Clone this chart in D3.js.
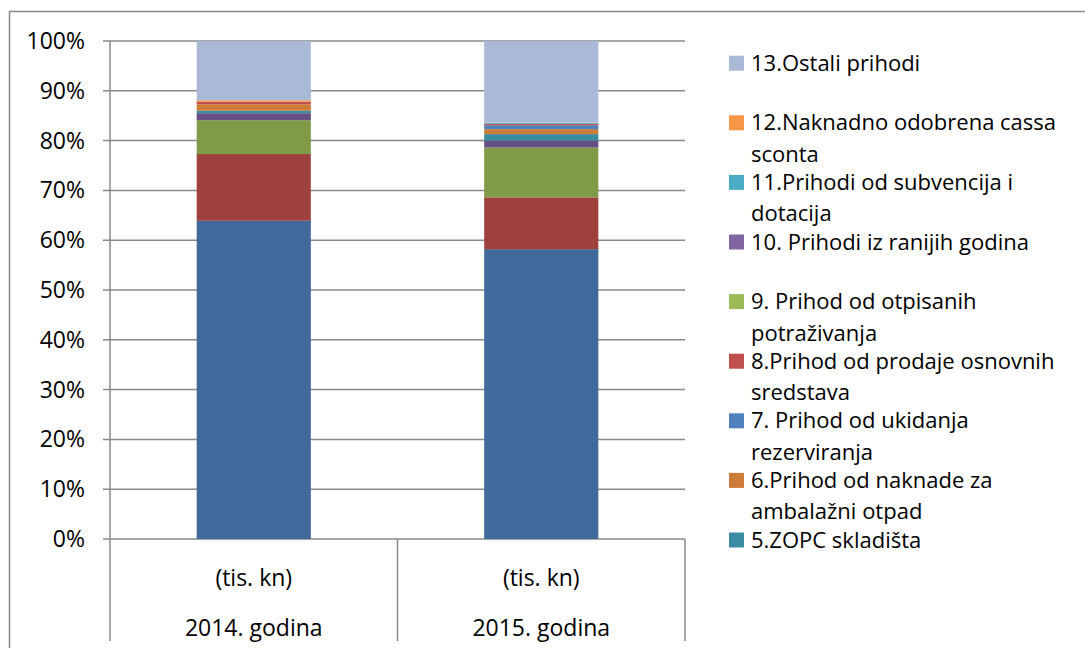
<!DOCTYPE html>
<html>
<head>
<meta charset="utf-8">
<script src="https://cdn.jsdelivr.net/npm/d3@7"></script>
<style>
  body { margin: 0; background: #fff; }
  text { font-family: "Open Sans", sans-serif; fill: #000; }
</style>
</head>
<body>
<div id="chart"></div>
<script>
// Data (shares of total)
const years = ["2014. godina", "2015. godina"];
const unitLabel = "(tis. kn)";
const seriesKeys = ["s1", "s2", "s3", "s4", "s5", "s6", "s7", "s8", "s9", "s10", "s11", "s12", "s13"];
const values2014 = [63.9, 13.4, 6.8, 1.4, 0.5, 1.3, 0.0, 0.5, 0.0, 0.0, 0.0, 0.3, 11.9];
const values2015 = [58.2, 10.4, 10.0, 1.4, 1.3, 1.0, 0.8, 0.3, 0.0, 0.0, 0.2, 0.0, 16.4];
const seriesColors = ["#41699b", "#9e413e", "#7f9b48", "#664f82", "#3a8ca3", "#cd7b38",
                      "#4f81bd", "#c0504d", "#9bbb59", "#8064a2", "#4bacc6", "#f79646", "#a9b9d6"];
const yTicks = [0, 0.1, 0.2, 0.3, 0.4, 0.5, 0.6, 0.7, 0.8, 0.9, 1.0];

// Legend only lists series 13 down to 5 (wrapped as in the original)
const legendKeys = ["s13", "s12", "s11", "s10", "s9", "s8", "s7", "s6", "s5"];
const legendLines = [
    ["13.Ostali prihodi"],
    ["12.Naknadno odobrena cassa", "sconta"],
    ["11.Prihodi od subvencija i", "dotacija"],
    ["10. Prihodi iz ranijih godina"],
    ["9. Prihod od otpisanih", "potraživanja"],
    ["8.Prihod od prodaje osnovnih", "sredstava"],
    ["7. Prihod od ukidanja", "rezerviranja"],
    ["6.Prihod od naknade za", "ambalažni otpad"],
    ["5.ZOPC skladišta"]
];

const W = 1085, H = 648;
const fontSize = 23;
const legendFontSize = 22;
const gridColor = "#898989";

const svg = d3.select("#chart")
    .append("svg")
    .attr("width", W)
    .attr("height", H);

svg.append("rect")
    .attr("width", W).attr("height", H)
    .attr("fill", "#fff");

// Outer chart border (runs off the right and bottom edge)
svg.append("rect")
    .attr("x", 9.5).attr("y", 11.5)
    .attr("width", W + 20).attr("height", H + 20)
    .attr("fill", "none")
    .attr("stroke", gridColor)
    .attr("stroke-width", 1.5);

const plot = {left: 110, right: 685, top: 41, bottom: 539};

const y = d3.scaleLinear()
    .domain([0, 1])
    .range([plot.bottom, plot.top]);

const x = d3.scaleBand()
    .domain(years)
    .range([plot.left, plot.right])
    .paddingInner(0.603)
    .paddingOuter(0.3015);

const color = d3.scaleOrdinal()
    .domain(seriesKeys)
    .range(seriesColors);

// Gridlines + y ticks
const gGrid = svg.append("g");
gGrid.selectAll("line")
    .data(yTicks)
    .join("line")
    .attr("x1", plot.left - 7)
    .attr("x2", plot.right)
    .attr("y1", d => y(d))
    .attr("y2", d => y(d))
    .attr("stroke", gridColor)
    .attr("stroke-width", 1.5);

gGrid.selectAll("text")
    .data(yTicks)
    .join("text")
    .attr("x", 85)
    .attr("y", d => y(d))
    .attr("dy", "0.35em")
    .attr("text-anchor", "end")
    .attr("font-size", fontSize)
    .text(d => d3.format(".0%")(d));

// Stacked bars
const table = years.map((yr, i) => {
    const row = {year: yr};
    const vals = i === 0 ? values2014 : values2015;
    const total = d3.sum(vals);
    seriesKeys.forEach((k, j) => { row[k] = vals[j] / total; });
    return row;
});

const stacked = d3.stack().keys(seriesKeys)(table);

svg.append("g")
    .selectAll("g")
    .data(stacked)
    .join("g")
    .attr("fill", d => color(d.key))
    .selectAll("rect")
    .data(d => d)
    .join("rect")
    .attr("x", d => x(d.data.year))
    .attr("width", x.bandwidth())
    .attr("y", d => y(d[1]))
    .attr("height", d => y(d[0]) - y(d[1]));

// Y axis line (runs down through the category area)
svg.append("line")
    .attr("x1", plot.left).attr("x2", plot.left)
    .attr("y1", plot.top).attr("y2", 641)
    .attr("stroke", gridColor)
    .attr("stroke-width", 1.5);

// Category separators
const seps = [plot.left + x.step(), plot.right];
svg.append("g")
    .selectAll("line")
    .data(seps)
    .join("line")
    .attr("x1", d => d).attr("x2", d => d)
    .attr("y1", plot.bottom).attr("y2", 641)
    .attr("stroke", gridColor)
    .attr("stroke-width", 1.5);

// Category labels (two rows)
const gCat = svg.append("g");
gCat.selectAll("text.unit")
    .data(years)
    .join("text")
    .attr("class", "unit")
    .attr("x", d => x(d) + x.bandwidth() / 2)
    .attr("y", 578)
    .attr("dy", "0.35em")
    .attr("text-anchor", "middle")
    .attr("font-size", fontSize)
    .text(unitLabel);

gCat.selectAll("text.year")
    .data(years)
    .join("text")
    .attr("class", "year")
    .attr("x", d => x(d) + x.bandwidth() / 2)
    .attr("y", 628)
    .attr("dy", "0.35em")
    .attr("text-anchor", "middle")
    .attr("font-size", fontSize)
    .text(d => d);

// Legend
const legendY = d3.scaleLinear()
    .domain([0, legendKeys.length - 1])
    .range([70.7, 547.5]);

const legend = svg.append("g")
    .selectAll("g")
    .data(legendKeys)
    .join("g")
    .attr("transform", (d, i) => `translate(729, ${legendY(i)})`);

legend.append("rect")
    .attr("x", 0)
    .attr("y", -15)
    .attr("width", 15)
    .attr("height", 15)
    .attr("fill", d => color(d));

// one text per entry, wrapped lines as tspans
legend.append("text")
    .attr("font-size", legendFontSize)
    .selectAll("tspan")
    .data((d, i) => legendLines[i])
    .join("tspan")
    .attr("x", 22)
    .attr("y", (d, j) => j * 31.5)
    .text(d => d);
</script>
</body>
</html>
